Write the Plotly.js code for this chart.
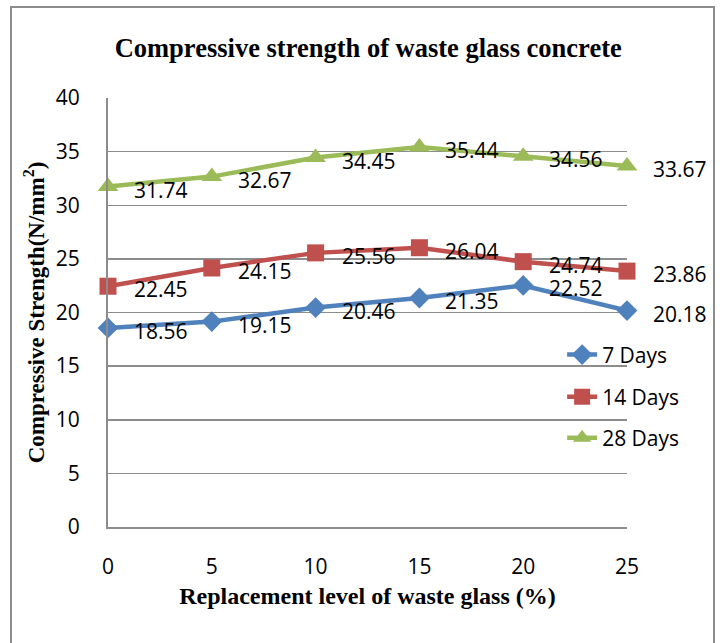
<!DOCTYPE html>
<html>
<head>
<meta charset="utf-8">
<script src="https://cdn.plot.ly/plotly-3.0.1.min.js"></script>
<style>html,body{margin:0;padding:0;background:#fff;}#chart{width:722px;height:643px;}</style>
</head>
<body>
<div id="chart"></div>
<script>
const replacement = [0, 5, 10, 15, 20, 25];
const days7  = [18.56, 19.15, 20.46, 21.35, 22.52, 20.18];
const days14 = [22.45, 24.15, 25.56, 26.04, 24.74, 23.86];
const days28 = [31.74, 32.67, 34.45, 35.44, 34.56, 33.67];
const seriesNames = ['7 Days', '14 Days', '28 Days'];
const yTicks = [0, 5, 10, 15, 20, 25, 30, 35, 40];
const xTicks = [0, 5, 10, 15, 20, 25];

const colors = ['#4F81BD', '#C0504D', '#9BBB59'];
const symbols = ['diamond', 'square', 'triangle-up'];
const sizes = [16, 17, 18];
const series = [days7, days14, days28];
const legendIds = ['legend', 'legend2', 'legend3'];

const traces = series.map((vals, i) => ({
  x: replacement, y: vals, type: 'scatter', mode: 'lines+markers',
  name: seriesNames[i], legend: legendIds[i], showlegend: true,
  line: {color: colors[i], width: 4.5},
  marker: {color: colors[i], symbol: symbols[i], size: sizes[i]},
  cliponaxis: false
}));

const annotations = [];
series.forEach(vals => {
  vals.forEach((v, j) => {
    annotations.push({
      x: replacement[j], y: v, xref: 'x', yref: 'y',
      text: v.toFixed(2), showarrow: false,
      xanchor: 'left', yanchor: 'middle', xshift: 24, yshift: -3,
      font: {family: 'Open Sans', size: 21, color: '#000'}
    });
  });
});

const legFont = {family: 'Open Sans', size: 21, color: '#000'};
const legendYs = [0.401, 0.303, 0.2075];
const mkLegend = y => ({visible: true, x: 0.875, xanchor: 'left', y: y, yanchor: 'middle',
  font: legFont, bgcolor: 'rgba(0,0,0,0)', borderwidth: 0, itemwidth: 30});

const layout = {
  width: 722, height: 643,
  showlegend: true,
  margin: {l: 108, r: 95, t: 98, b: 116},
  paper_bgcolor: '#fff', plot_bgcolor: '#fff',
  title: {text: '<b>Compressive strength of waste glass concrete</b>',
    font: {family: 'Liberation Serif', size: 26.5, color: '#000'},
    x: 0.51, xanchor: 'center', y: 1 - 48/643, yanchor: 'middle', yref: 'container'},
  xaxis: {range: [0, 25], tickvals: xTicks, ticktext: xTicks.map(String),
    showgrid: false, zeroline: false, showline: true, linecolor: '#8c8c8c', linewidth: 2,
    ticks: '', ticklabelstandoff: 20,
    tickfont: {family: 'Open Sans', size: 21, color: '#000'},
    title: {text: '<b>Replacement level of waste glass (%)</b>', standoff: 8,
      font: {family: 'Liberation Serif', size: 24, color: '#000'}}},
  yaxis: {range: [0, 40], tickvals: yTicks, ticktext: yTicks.map(String),
    showgrid: true, gridcolor: '#8c8c8c', gridwidth: 1.5, zeroline: false,
    showline: true, linecolor: '#8c8c8c', linewidth: 2,
    ticks: '', ticklabelstandoff: 22,
    tickfont: {family: 'Open Sans', size: 21, color: '#000'},
    title: {text: '<b>Compressive Strength(N/mm<sup>2</sup>)</b>', standoff: 5,
      font: {family: 'Liberation Serif', size: 23, color: '#000'}}},
  legend: mkLegend(legendYs[0]),
  legend2: mkLegend(legendYs[1]),
  legend3: mkLegend(legendYs[2]),
  annotations: annotations,
  shapes: [{type: 'rect', xref: 'paper', yref: 'paper',
    x0: (11-108)/519, x1: (714-108)/519, y0: -0.32, y1: (527-7)/429,
    line: {color: '#8c8c8c', width: 2}, fillcolor: 'rgba(0,0,0,0)', layer: 'below'}]
};

Plotly.newPlot('chart', traces, layout, {displayModeBar: false, staticPlot: true});
</script>
</body>
</html>
